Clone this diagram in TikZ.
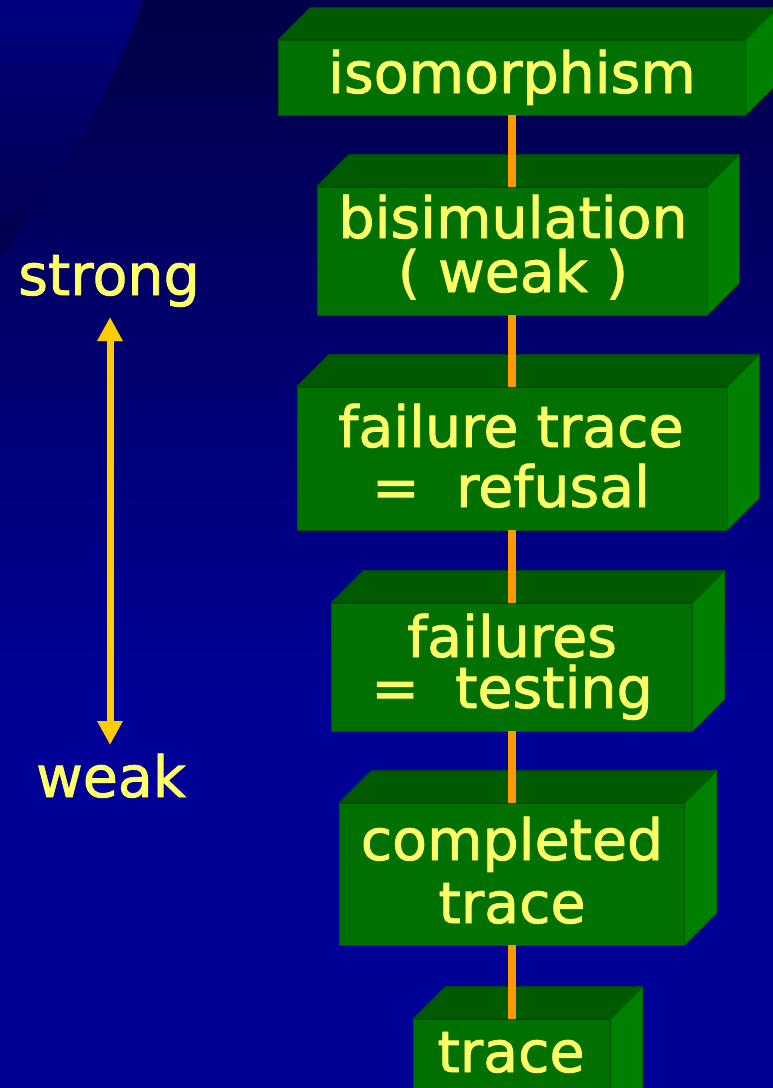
\documentclass[tikz,border=0pt]{standalone}
\usepackage{fontspec}
\setmainfont{DejaVu Sans}
\newfontfamily\labelfont[FakeBold=1.5]{DejaVu Sans}
\usetikzlibrary{arrows.meta}

\definecolor{bgtop}{RGB}{0,0,72}
\definecolor{bgbot}{RGB}{0,0,150}
\definecolor{cornertop}{RGB}{0,0,128}
\definecolor{cornerbot}{RGB}{0,0,76}
\definecolor{frontgreen}{RGB}{0,112,0}
\definecolor{topgreen}{RGB}{0,90,0}
\definecolor{sidegreen}{RGB}{0,128,0}
\definecolor{edgegreen}{RGB}{0,84,0}
\definecolor{labelyellow}{RGB}{255,255,102}
\definecolor{linkorange}{RGB}{255,153,0}
\definecolor{scalegold}{RGB}{255,204,0}

\tikzset{
  front/.style={draw=edgegreen, line width=0.6pt, fill=frontgreen, inner sep=0pt},
  topface/.style={fill=topgreen, draw=edgegreen, line width=0.6pt},
  sideface/.style={fill=sidegreen, draw=edgegreen, line width=0.6pt},
  lbl/.style={text=labelyellow, font=\labelfont\fontsize{57}{57}\selectfont, align=center,
              inner sep=0pt, anchor=base},
  link/.style={draw=linkorange, line width=8pt},
  scalearrow/.style={draw=scalegold, line width=7pt,
    {Triangle[width=24pt,length=24pt]}-{Triangle[width=24pt,length=24pt]}}
}

% a green slab: name, centre x, centre y, width, height (front face)
\newcommand\slab[5]{%
  \node[front, minimum width=#4pt, minimum height=#5pt] (#1) at (#2,#3) {};
  \path[topface] (#1.north west) -- ++(32,-32)
     -- ([shift={(32,-32)}]#1.north east) -- (#1.north east) -- cycle;
  \path[sideface] (#1.north east) -- ++(32,-32)
     -- ([shift={(32,-32)}]#1.south east) -- (#1.south east) -- cycle;
}

\begin{document}
\begin{tikzpicture}[x=1pt, y=-1pt]
  \clip (0,0) rectangle (773,1088);
  % backdrop
  \fill[bgbot] (0,0) rectangle (773,1088);
  \shade[top color=bgtop, bottom color=bgbot] (0,0) rectangle (773,700);
  \shade[top color=cornertop, bottom color=cornerbot]
    (0,0) -- (143,0) .. controls (110,95) and (60,180) .. (0,257) -- cycle;

  % the chain of equivalences
  \slab{f1}{512}{77.5}{467}{75}
  \slab{f2}{512}{251}{390}{128}
  \slab{f3}{512}{458.5}{430}{143}
  \slab{f4}{512}{667}{361}{128}
  \slab{f5}{512}{874}{345}{142}
  \slab{f6}{512}{1069}{197}{100}

  \draw[link] (f1.south) -- (f2.north);
  \draw[link] (f2.south) -- (f3.north);
  \draw[link] (f3.south) -- (f4.north);
  \draw[link] (f4.south) -- (f5.north);
  \draw[link] (f5.south) -- (f6.north);

  % labels; a multi-line label sits on the baseline of its last line
  \node[lbl] (t1) at (512,93) {isomorphism};
  \node[lbl] (t2) at (513,292) {bisimulation\\[-3pt]( weak )};
  \node[lbl] (t3) at (511,507) {failure trace\\[3pt]=\ \ refusal};
  \node[lbl] (t4) at (512,708) {failures\\[-6pt]=\ \ testing};
  \node[lbl] (t5) at (512,923) {completed\\[6pt]trace};
  \node[lbl] (t6) at (511,1072) {trace};

  % strong / weak scale
  \node[lbl] (strong) at (109,295) {strong};
  \node[lbl] (weak) at (111,797) {weak};
  \coordinate (hi) at (110,317);
  \coordinate (lo) at (110,745);
  \draw[scalearrow] (hi) -- (lo);
\end{tikzpicture}
\end{document}
